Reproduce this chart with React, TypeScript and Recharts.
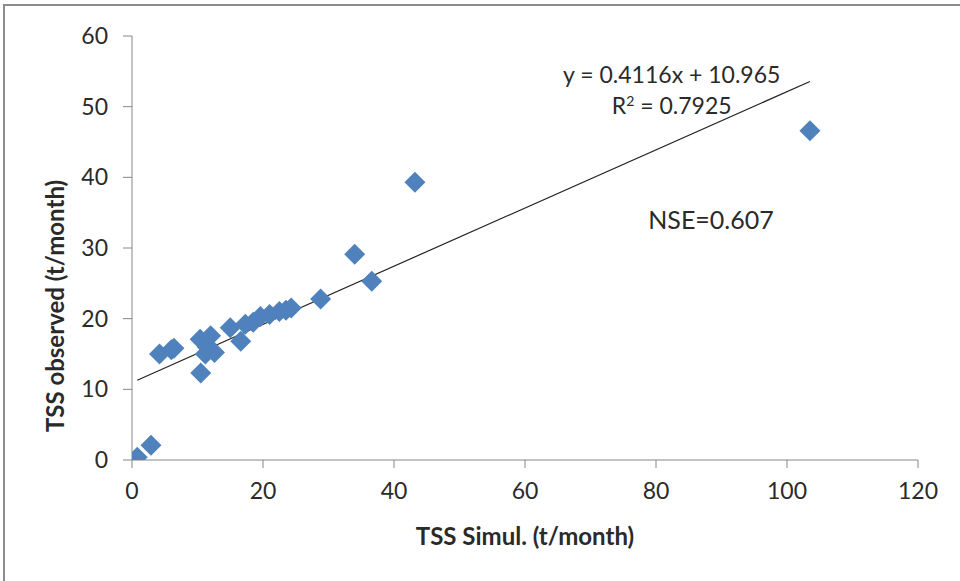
import React from 'react';
import { ScatterChart, Scatter, XAxis, YAxis, ReferenceDot } from 'recharts';

const simulated = [0.8, 2.9, 4.2, 6.0, 6.4, 10.5, 10.4, 11.2, 12.0, 12.6, 11.5, 15.0, 16.6, 17.3, 18.5, 19.6, 21.0, 22.5, 23.5, 24.3, 28.8, 34.0, 36.6, 43.2, 103.5];
const observed = [0.4, 2.1, 15.0, 15.6, 15.8, 12.3, 17.1, 15.0, 17.6, 15.2, 16.0, 18.7, 16.8, 19.2, 19.5, 20.3, 20.6, 21.0, 21.2, 21.5, 22.8, 29.1, 25.3, 39.3, 46.6];
const xTicks = [0, 20, 40, 60, 80, 100, 120];
const yTicks = [0, 10, 20, 30, 40, 50, 60];
const slope = 0.4116;
const intercept = 10.965;

const points = simulated.map((x, i) => ({ x, y: observed[i] }));
const xMin = Math.min(...simulated);
const xMax = Math.max(...simulated);
const trend = [
  { x: xMin, y: slope * xMin + intercept },
  { x: xMax, y: slope * xMax + intercept },
];

const FONT = 'Lato, "Open Sans", sans-serif';
const TEXT = '#2a2a2a';

const Diamond = (props: any) => {
  const { cx, cy } = props;
  const r = 10.5;
  return (
    <polygon
      points={`${cx},${cy - r} ${cx + r},${cy} ${cx},${cy + r} ${cx - r},${cy}`}
      fill="#4F81BD"
    />
  );
};

const NoShape = () => null;

export default function App() {
  return (
    <div style={{ position: 'absolute', left: 0, top: 0, width: 960, height: 581, background: '#fff' }}>
      <div
        style={{
          position: 'absolute',
          left: 3,
          top: 4,
          width: 957,
          height: 577,
          borderTop: '2px solid #8c8c8c',
          borderLeft: '2px solid #8c8c8c',
          boxSizing: 'border-box',
        }}
      />
      <ScatterChart
        width={960}
        height={581}
        margin={{ top: 36, right: 42, bottom: 0, left: 0 }}
        style={{ position: 'absolute', left: 0, top: 0, fontFamily: FONT }}
      >
        <XAxis
          type="number"
          dataKey="x"
          domain={[0, 120]}
          ticks={xTicks}
          interval={0}
          height={121}
          allowDataOverflow
          stroke="#868686"
          tickSize={8}
          tickMargin={15}
          tick={{ fill: TEXT, fontSize: 23, fontFamily: FONT }}
          tickLine={{ stroke: '#868686' }}
          label={(props: any) => {
            const vb = props.viewBox;
            return (
              <text
                x={vb.x + vb.width / 2}
                y={vb.y + 85}
                textAnchor="middle"
                fontFamily={FONT}
                fontSize={24}
                fontWeight="bold"
                fill={TEXT}
              >
                TSS Simul. (t/month)
              </text>
            );
          }}
        />
        <YAxis
          type="number"
          dataKey="y"
          domain={[0, 60]}
          ticks={yTicks}
          interval={0}
          width={132}
          allowDataOverflow
          stroke="#868686"
          tickSize={9}
          tickMargin={15}
          tick={{ fill: TEXT, fontSize: 23, fontFamily: FONT }}
          tickLine={{ stroke: '#868686' }}
          label={(props: any) => {
            const vb = props.viewBox;
            const cx = vb.x + 64;
            const cy = vb.y + vb.height / 2 + 58;
            return (
              <text
                x={cx}
                y={cy}
                transform={`rotate(-90 ${cx} ${cy})`}
                textAnchor="middle"
                fontFamily={FONT}
                fontSize={24}
                fontWeight="bold"
                fill={TEXT}
              >
                TSS observed (t/month)
              </text>
            );
          }}
        />
        <Scatter
          data={trend}
          line={{ stroke: '#222', strokeWidth: 1.2 }}
          shape={NoShape}
          isAnimationActive={false}
        />
        <Scatter data={points} shape={Diamond} isAnimationActive={false} />
        <ReferenceDot
          x={82.4}
          y={54.5}
          r={0}
          stroke="none"
          label={{ value: 'y = 0.4116x + 10.965', position: 'center', fontSize: 23, fill: TEXT, fontFamily: FONT }}
        />
        <ReferenceDot
          x={82.4}
          y={50.1}
          r={0}
          stroke="none"
          label={(props: any) => {
            const vb = props.viewBox;
            const cx = vb.x + (vb.width || 0) / 2;
            const cy = vb.y + (vb.height || 0) / 2;
            return (
              <text x={cx} y={cy} dy="0.355em" textAnchor="middle" fontFamily={FONT} fontSize={23} fill={TEXT}>
                R<tspan baselineShift="super" fontSize={14}>2</tspan> = 0.7925
              </text>
            );
          }}
        />
        <ReferenceDot
          x={88.4}
          y={34}
          r={0}
          stroke="none"
          label={{ value: 'NSE=0.607', position: 'center', fontSize: 25, fill: TEXT, fontFamily: FONT }}
        />
      </ScatterChart>
    </div>
  );
}
